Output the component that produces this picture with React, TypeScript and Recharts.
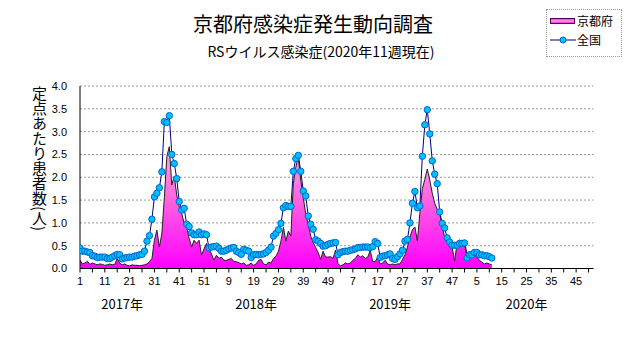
import React from "react";
import {
  ComposedChart,
  Area,
  Line,
  XAxis,
  YAxis,
  CartesianGrid,
  Legend,
} from "recharts";

// ---- labels ----
const titleText = "京都府感染症発生動向調査";
const subtitleText = "RSウイルス感染症(2020年11週現在)";
const yAxisLabel = "定点あたり患者数(人)";
const seriesNames = { kyoto: "京都府", national: "全国" };

const years = ["2017年", "2018年", "2019年", "2020年"];
const yearLabelWeekIndex = [17, 71, 125, 180];

const xTickIndex = [0, 10, 20, 30, 40, 50, 60, 70, 80, 90, 100, 110, 120, 130, 140, 150, 160, 170, 180, 190, 200];
const xTickLabels = ["1", "11", "21", "31", "41", "51", "9", "19", "29", "39", "49", "7", "17", "27", "37", "47", "5", "15", "25", "35", "45"];
const xMinorTicks = [0, 5, 10, 15, 20, 25, 30, 35, 40, 45, 50, 55, 60, 65, 70, 75, 80, 85, 90, 95, 100, 105, 110, 115, 120, 125, 130, 135, 140, 145, 150, 155, 160, 165, 170, 175, 180, 185, 190, 195, 200, 205];
const xDomainEnd = 207;
const yTicks = [0, 0.5, 1, 1.5, 2, 2.5, 3, 3.5, 4];

// ---- national (全国) ----
const national2017 = [
  0.45, 0.38, 0.38, 0.36, 0.35, 0.28, 0.27, 0.24, 0.25, 0.25,
  0.25, 0.22, 0.22, 0.25, 0.28, 0.31, 0.30, 0.21, 0.23, 0.24,
  0.25, 0.25, 0.27, 0.28, 0.30, 0.31, 0.38, 0.60, 0.72, 1.08,
  1.57, 1.65, 1.77, 2.12, 3.22, 3.20, 3.35, 2.50, 2.30, 1.97,
  1.47, 1.28, 1.32, 0.97, 0.92, 0.78, 0.74, 0.74, 0.80, 0.74,
  0.76, 0.74,
];
const national2018 = [
  0.45, 0.47, 0.48, 0.49, 0.44, 0.38, 0.38, 0.40, 0.43, 0.45,
  0.46, 0.38, 0.35, 0.31, 0.42, 0.40, 0.38, 0.24, 0.30, 0.31,
  0.30, 0.31, 0.32, 0.35, 0.40, 0.47, 0.71, 0.77, 0.85, 0.99,
  1.33, 1.38, 1.36, 1.36, 2.13, 2.41, 2.48, 2.13, 1.70, 1.59,
  1.15, 0.97, 0.86, 0.63, 0.60, 0.55, 0.49, 0.50, 0.53, 0.55,
  0.56, 0.57,
];
const national2019 = [
  0.30, 0.35, 0.37, 0.38, 0.38, 0.40, 0.41, 0.43, 0.46, 0.46,
  0.47, 0.47, 0.47, 0.46, 0.48, 0.59, 0.55, 0.24, 0.27, 0.28,
  0.30, 0.32, 0.22, 0.20, 0.26, 0.32, 0.40, 0.60, 0.64, 1.00,
  1.43, 1.69, 1.33, 1.37, 2.46, 3.15, 3.48, 2.95, 2.36, 2.07,
  1.86, 1.24, 0.99, 0.89, 0.67, 0.58, 0.51, 0.51, 0.51, 0.55,
  0.55, 0.56,
];
const national2020 = [0.23, 0.30, 0.30, 0.35, 0.35, 0.30, 0.30, 0.28, 0.28, 0.26, 0.23];

// ---- Kyoto (京都府) ----
const kyoto2017 = [
  0.18, 0.10, 0.12, 0.16, 0.09, 0.12, 0.10, 0.08, 0.10, 0.09,
  0.07, 0.08, 0.10, 0.08, 0.09, 0.22, 0.12, 0.08, 0.10, 0.07,
  0.06, 0.08, 0.07, 0.07, 0.06, 0.07, 0.08, 0.10, 0.15, 0.22,
  0.62, 0.84, 0.47, 0.77, 1.55, 2.45, 2.67, 1.83, 2.02, 1.61,
  1.35, 1.20, 0.99, 0.91, 0.66, 0.47, 0.62, 0.55, 0.62, 0.29,
  0.43, 0.55,
];
const kyoto2018 = [
  0.43, 0.32, 0.18, 0.29, 0.22, 0.25, 0.18, 0.18, 0.20, 0.22,
  0.15, 0.15, 0.13, 0.10, 0.12, 0.07, 0.08, 0.12, 0.07, 0.10,
  0.18, 0.20, 0.10, 0.08, 0.14, 0.12, 0.22, 0.27, 0.38, 0.60,
  0.90, 0.60, 0.82, 0.71, 1.86, 2.22, 2.45, 1.93, 1.56, 1.19,
  0.97, 0.71, 0.57, 0.46, 0.35, 0.20, 0.38, 0.25, 0.25, 0.26,
  0.22, 0.40,
];
const kyoto2019 = [
  0.10, 0.06, 0.08, 0.12, 0.10, 0.12, 0.18, 0.22, 0.30, 0.25,
  0.28, 0.22, 0.25, 0.40, 0.15, 0.15, 0.25, 0.10, 0.12, 0.18,
  0.10, 0.08, 0.10, 0.08, 0.10, 0.10, 0.20, 0.30, 0.47, 0.69,
  0.85, 0.91, 0.60, 1.21, 1.75, 1.95, 2.18, 1.94, 1.65, 1.43,
  1.30, 1.21, 0.91, 0.69, 0.60, 0.47, 0.48, 0.16, 0.55, 0.63,
  0.57, 0.62,
];
const kyoto2020 = [0.30, 0.32, 0.25, 0.30, 0.25, 0.18, 0.14, 0.10, 0.12, 0.10, 0.08];

const national = [...national2017, ...national2018, ...national2019, ...national2020];
const kyoto = [...kyoto2017, ...kyoto2018, ...kyoto2019, ...kyoto2020];
const chartData = national.map((v, i) => ({ idx: i, national: v, kyoto: kyoto[i] }));

const numFont = "'Liberation Sans Narrow', 'Liberation Sans', Arial, sans-serif";
const jpFont = "'Noto Sans CJK JP', 'Noto Sans', sans-serif";

const XTick = (props: any) => {
  const { x, y, payload } = props;
  const pos = xTickIndex.indexOf(payload.value);
  if (pos < 0) return <g />;
  return (
    <text x={x} y={y} dy={9} textAnchor="middle" fontSize={11} fontFamily={numFont} fill="#000">
      {xTickLabels[pos]}
    </text>
  );
};

const YearTick = (props: any) => {
  const { x, y, payload } = props;
  const pos = yearLabelWeekIndex.indexOf(payload.value);
  if (pos < 0) return <g />;
  return (
    <text x={x} y={y} dy={18} textAnchor="middle" fontSize={13} fontFamily={jpFont} fill="#000">
      {years[pos]}
    </text>
  );
};

const LegendBox = () => (
  <div
    style={{
      width: 76,
      height: 48,
      border: "1px dotted #9a9a9a",
      boxSizing: "border-box",
      background: "#fff",
      position: "relative",
      fontFamily: jpFont,
      fontSize: 12,
      color: "#000",
    }}
  >
    <div
      style={{
        position: "absolute",
        left: 3,
        top: 8,
        width: 25,
        height: 6,
        boxSizing: "border-box",
        border: "1px solid #500050",
        background: "linear-gradient(to bottom, #ff33ee, #ffa0dd, #ff22ee)",
      }}
    />
    <div style={{ position: "absolute", left: 30, top: 3, lineHeight: "16px" }}>{seriesNames.kyoto}</div>
    <svg style={{ position: "absolute", left: 2, top: 24 }} width={28} height={12}>
      <line x1={1} y1={6} x2={27} y2={6} stroke="#000080" strokeWidth={1} />
      <circle cx={14} cy={6} r={3} fill="#00bfff" stroke="#0066cc" strokeWidth={1} />
    </svg>
    <div style={{ position: "absolute", left: 30, top: 22, lineHeight: "16px" }}>{seriesNames.national}</div>
  </div>
);

export default function App() {
  return (
    <div style={{ position: "relative", width: 615, height: 331, background: "#fff" }}>
      <ComposedChart
        width={615}
        height={331}
        data={chartData}
        margin={{ top: 78, right: 29.5, left: 32, bottom: 22.5 }}
      >
        <defs>
          <linearGradient id="kyotoFill" x1="0" y1="0" x2="0" y2="1">
            <stop offset="0%" stopColor="#ffa8d8" />
            <stop offset="45%" stopColor="#ff60e0" />
            <stop offset="100%" stopColor="#ff00ff" />
          </linearGradient>
        </defs>
        <CartesianGrid vertical={false} stroke="#9a9a9a" strokeDasharray="2 2" />
        <XAxis
          dataKey="idx"
          type="number"
          domain={[0, xDomainEnd]}
          ticks={xMinorTicks}
          interval={0}
          allowDataOverflow
          tick={<XTick />}
          tickSize={4}
          tickMargin={3}
          axisLine={{ stroke: "#000" }}
          tickLine={{ stroke: "#000" }}
          height={22}
        />
        <XAxis
          xAxisId="year"
          dataKey="idx"
          type="number"
          domain={[0, xDomainEnd]}
          ticks={yearLabelWeekIndex}
          interval={0}
          allowDataOverflow
          tick={<YearTick />}
          tickSize={0}
          tickMargin={0}
          axisLine={false}
          tickLine={false}
          height={26}
        />
        <YAxis
          type="number"
          domain={[0, 4]}
          ticks={yTicks}
          interval={0}
          allowDataOverflow
          tickFormatter={(v: number) => v.toFixed(1)}
          axisLine={{ stroke: "#000" }}
          tickLine={false}
          tickSize={0}
          tickMargin={13}
          width={40}
          tick={{ fontSize: 11, fill: "#000", fontFamily: numFont }}
        />
        <Legend
          layout="vertical"
          align="center"
          verticalAlign="middle"
          content={() => <LegendBox />}
          wrapperStyle={{ position: "absolute", left: 538, top: 1, width: 76, height: 48 }}
        />
        <Area
          type="linear"
          dataKey="kyoto"
          name={seriesNames.kyoto}
          stroke="#202020"
          strokeWidth={1}
          fill="url(#kyotoFill)"
          fillOpacity={1}
          dot={false}
          activeDot={false}
          isAnimationActive={false}
        />
        <Line
          type="linear"
          dataKey="national"
          name={seriesNames.national}
          stroke="#000080"
          strokeWidth={1}
          dot={{ r: 3.2, fill: "#00bfff", stroke: "#0066cc", strokeWidth: 1 }}
          activeDot={false}
          isAnimationActive={false}
        />
      </ComposedChart>
      <div
        style={{
          position: "absolute",
          left: 0,
          top: 5,
          width: 610,
          textAlign: "center",
          fontFamily: jpFont,
          fontSize: 20,
          lineHeight: "22px",
          color: "#000",
        }}
      >
        {titleText}
      </div>
      <div
        style={{
          position: "absolute",
          left: 0,
          top: 35,
          width: 626,
          textAlign: "center",
          fontFamily: jpFont,
          fontSize: 14,
          lineHeight: "16px",
          color: "#000",
        }}
      >
        {subtitleText}
      </div>
      <div
        style={{
          position: "absolute",
          left: 23,
          top: 78,
          writingMode: "vertical-rl",
          textOrientation: "mixed",
          fontFamily: jpFont,
          fontSize: 15,
          lineHeight: "16px",
          color: "#000",
        }}
      >
        {yAxisLabel}
      </div>
    </div>
  );
}
